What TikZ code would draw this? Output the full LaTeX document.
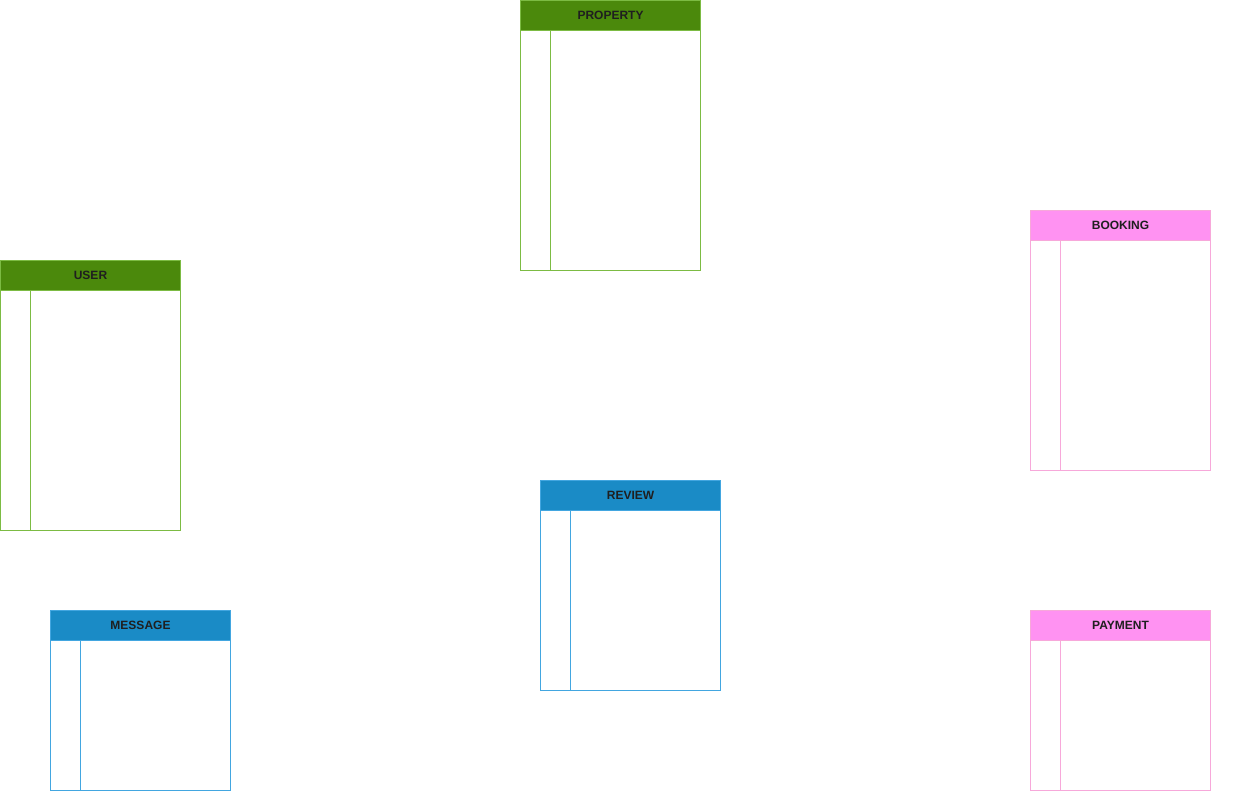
\documentclass[tikz,border=0pt]{standalone}
\usepackage{fontspec}
\setmainfont{Liberation Sans}
\begin{document}
\definecolor{greenhead}{HTML}{4B890C}
\definecolor{greenline}{HTML}{7CBB43}
\definecolor{bluehead}{HTML}{1A8BC6}
\definecolor{blueline}{HTML}{42A6E0}
\definecolor{pinkhead}{HTML}{FF92F2}
\definecolor{pinkline}{HTML}{F7A8DA}
\begin{tikzpicture}[x=1pt,y=-1pt,
  headtext/.style={font=\bfseries\fontsize{12}{14}\selectfont, text=black!88}]
\useasboundingbox[fill=white] (0,0) rectangle (1250,791);
% \entity{name}{x}{y}{height}{head colour}{line colour}{title}
\newcommand{\entity}[7]{%
  \fill[#5] (#2,#3) rectangle ++(180,30);
  \draw[#6, line width=0.8pt] (#2,#3) rectangle ++(180,#4);
  \draw[#6, line width=0.8pt] (#2,#3+30) -- ++(180,0);
  \draw[#6, line width=0.8pt] (#2+30,#3+30) -- (#2+30,#3+#4);
  \node[headtext] (#1) at (#2+90,#3+15) {#7};
}
\entity{property}{520.5}{0.5}{270}{greenhead}{greenline}{PROPERTY}
\entity{user}{0.5}{260.5}{270}{greenhead}{greenline}{USER}
\entity{booking}{1030.5}{210.5}{260}{pinkhead}{pinkline}{BOOKING}
\entity{review}{540.5}{480.5}{210}{bluehead}{blueline}{REVIEW}
\entity{message}{50.5}{610.5}{180}{bluehead}{blueline}{MESSAGE}
\entity{payment}{1030.5}{610.5}{180}{pinkhead}{pinkline}{PAYMENT}
\end{tikzpicture}
\end{document}
